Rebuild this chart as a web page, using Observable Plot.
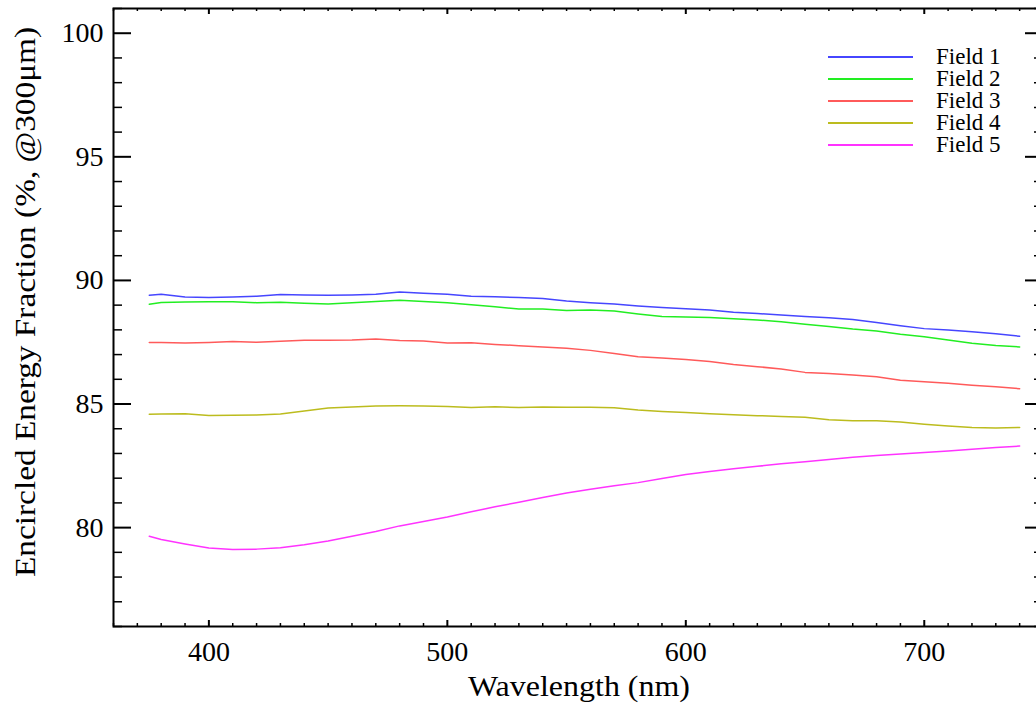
<!DOCTYPE html>
<html><head><meta charset="utf-8">
<script src="https://cdn.jsdelivr.net/npm/d3@7"></script>
<script src="https://cdn.jsdelivr.net/npm/@observablehq/plot@0.6"></script>
<style>
html,body{margin:0;padding:0;background:#fff;overflow:hidden;}
#wrap{position:relative;width:1036px;height:704px;overflow:hidden;}
#wrap svg{position:absolute;left:0;top:0;max-width:none !important;}
</style></head><body><div id="wrap"></div>
<script>
// ---- data ----
const wavelengths = [375,380,390,400,410,420,430,440,450,460,470,480,490,500,510,520,530,540,550,560,570,580,590,600,610,620,630,640,650,660,670,680,690,700,710,720,730,740];
const field1 = [89.40,89.44,89.33,89.31,89.33,89.36,89.43,89.41,89.40,89.41,89.44,89.53,89.48,89.44,89.36,89.34,89.31,89.27,89.17,89.10,89.05,88.97,88.90,88.85,88.80,88.71,88.66,88.60,88.54,88.49,88.42,88.30,88.17,88.05,87.99,87.92,87.84,87.74];
const field2 = [89.04,89.11,89.13,89.14,89.14,89.10,89.12,89.08,89.05,89.10,89.15,89.20,89.15,89.10,89.02,88.93,88.84,88.84,88.78,88.80,88.76,88.64,88.54,88.52,88.50,88.45,88.40,88.33,88.23,88.14,88.03,87.95,87.82,87.72,87.59,87.46,87.37,87.31];
const field3 = [87.49,87.49,87.47,87.49,87.53,87.50,87.54,87.58,87.58,87.59,87.63,87.57,87.55,87.47,87.48,87.41,87.36,87.31,87.26,87.17,87.04,86.91,86.86,86.80,86.72,86.60,86.51,86.42,86.28,86.23,86.17,86.10,85.96,85.90,85.84,85.76,85.70,85.62];
const field4 = [84.59,84.60,84.61,84.54,84.55,84.56,84.60,84.72,84.84,84.88,84.92,84.93,84.92,84.90,84.86,84.89,84.86,84.88,84.87,84.87,84.85,84.76,84.70,84.66,84.61,84.57,84.53,84.50,84.46,84.36,84.32,84.32,84.27,84.18,84.11,84.05,84.03,84.05];
const field5 = [79.65,79.52,79.34,79.18,79.11,79.13,79.19,79.31,79.46,79.65,79.84,80.07,80.25,80.43,80.64,80.84,81.03,81.22,81.40,81.55,81.69,81.82,81.99,82.15,82.27,82.38,82.48,82.58,82.66,82.76,82.85,82.92,82.98,83.04,83.10,83.17,83.24,83.30];
const seriesNames = ["Field 1","Field 2","Field 3","Field 4","Field 5"];
const seriesValues = [field1, field2, field3, field4, field5];
const seriesColors = ["#4646ff","#22ee22","#ff5a5a","#bcbc1e","#ff33ff"];
const xTicks = [400,500,600,700];
const yTicks = [80,85,90,95,100];
const xLabel = "Wavelength (nm)";
const yLabel = "Encircled Energy Fraction (%, @300μm)";

// ---- build table ----
const rows = [];
seriesValues.forEach((vals, i) => vals.forEach((v, j) => rows.push({field: seriesNames[i], wl: wavelengths[j], v})));

const W = 1045, H = 704, mL = 113, mR = 2, mT = 8, mB = 78;
const plotW = W - mL - mR, plotH = H - mT - mB;
const xMinor = d3.range(360, 751, 10).filter(d => !xTicks.includes(d));
const yMinor = d3.range(76, 102, 1).filter(d => !yTicks.includes(d));
const font = "'Liberation Serif', 'Times New Roman', serif";

const chart = Plot.plot({
  width: W, height: H,
  marginLeft: mL, marginRight: mR, marginTop: mT, marginBottom: mB,
  style: {fontFamily: font, color: "black", background: "white", maxWidth: "none"},
  x: {domain: [360, 750], axis: null},
  y: {domain: [76, 101], axis: null},
  color: {domain: seriesNames, range: seriesColors},
  marks: [
    Plot.line(rows, {x: "wl", y: "v", stroke: "field", strokeWidth: 1.5}),
    // bottom ticks (inward)
    Plot.tickX(xTicks, {x: d => d, insetTop: plotH - 6, strokeWidth: 2}),
    Plot.tickX(xMinor, {x: d => d, insetTop: plotH - 3, strokeWidth: 1.5}),
    // top ticks (inward)
    Plot.tickX(xTicks, {x: d => d, insetBottom: plotH - 6, strokeWidth: 2}),
    Plot.tickX(xMinor, {x: d => d, insetBottom: plotH - 3, strokeWidth: 1.5}),
    // left ticks
    Plot.tickY(yTicks, {y: d => d, insetRight: plotW - 18, strokeWidth: 2}),
    Plot.tickY(yMinor, {y: d => d, insetRight: plotW - 9, strokeWidth: 1.5}),
    // right ticks
    Plot.tickY(yTicks, {y: d => d, insetLeft: plotW - 18, strokeWidth: 2}),
    Plot.tickY(yMinor, {y: d => d, insetLeft: plotW - 9, strokeWidth: 1.5}),
    // tick labels
    Plot.text(xTicks, {x: d => d, text: d => String(d), frameAnchor: "bottom", lineAnchor: "middle", dy: 26, fontSize: 28, fill: "black"}),
    Plot.text(yTicks, {y: d => d, text: d => String(d), frameAnchor: "left", textAnchor: "end", lineAnchor: "middle", dx: -10, fontSize: 28, fill: "black"}),
    Plot.frame({stroke: "black", strokeWidth: 2})
  ]
});
chart.style.maxWidth = "none";
document.getElementById("wrap").appendChild(chart);

// axis titles
const svg = d3.select(chart);
svg.append("text")
  .attr("x", 579).attr("y", 696)
  .attr("text-anchor", "middle")
  .attr("font-family", font).attr("font-size", 30).attr("fill", "black")
  .attr("textLength", 222).attr("lengthAdjust", "spacingAndGlyphs")
  .text(xLabel);
svg.append("text")
  .attr("transform", "translate(35,302) rotate(-90)")
  .attr("text-anchor", "middle")
  .attr("font-family", font).attr("font-size", 30).attr("fill", "black")
  .attr("textLength", 550).attr("lengthAdjust", "spacingAndGlyphs")
  .text(yLabel);

// legend
const lg = svg.append("g").attr("text-anchor", "start");
seriesNames.forEach((name, i) => {
  const y = 57 + 22 * i;
  lg.append("line").attr("x1", 828).attr("x2", 913).attr("y1", y).attr("y2", y)
    .attr("stroke", seriesColors[i]).attr("stroke-width", 2);
  lg.append("text").attr("x", 936).attr("y", y + 7)
    .attr("text-anchor", "start")
    .attr("font-family", font).attr("font-size", 23).attr("fill", "black").text(name);
});
</script></body></html>
